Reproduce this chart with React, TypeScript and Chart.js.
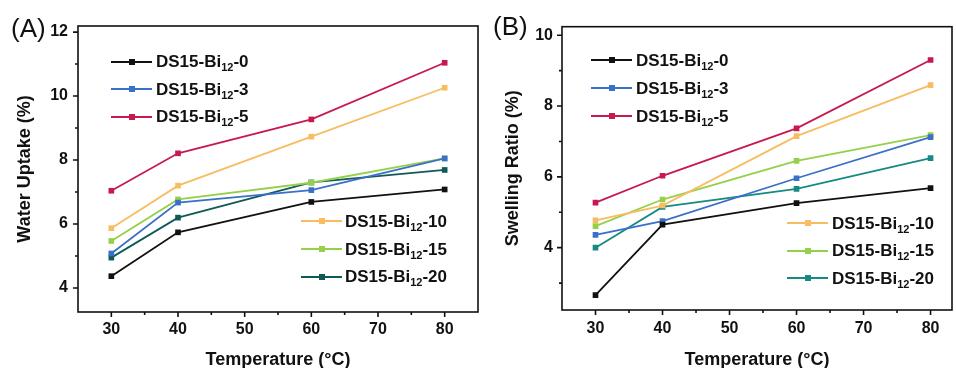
import React, { useEffect, useRef } from 'react';
import { Chart, registerables } from 'chart.js';

Chart.register(...registerables);

const FONT = "'Liberation Sans', Arial, Helvetica, sans-serif";

// ---------- data ----------
const temperatures = [30, 40, 60, 80];
const sampleIds = ['0', '3', '5', '10', '15', '20'];
const labelPrefix = 'DS15-Bi';
const labelSub = '12';

const waterUptake0 = [4.37, 5.74, 6.69, 7.08];
const waterUptake3 = [5.08, 6.67, 7.06, 8.05];
const waterUptake5 = [7.04, 8.21, 9.27, 11.04];
const waterUptake10 = [5.87, 7.2, 8.73, 10.26];
const waterUptake15 = [5.47, 6.77, 7.29, 8.05];
const waterUptake20 = [4.95, 6.2, 7.3, 7.69];

const swelling0 = [2.66, 4.65, 5.26, 5.68];
const swelling3 = [4.36, 4.75, 5.96, 7.12];
const swelling5 = [5.27, 6.03, 7.37, 9.3];
const swelling10 = [4.77, 5.19, 7.15, 8.59];
const swelling15 = [4.61, 5.36, 6.45, 7.18];
const swelling20 = [4.0, 5.15, 5.66, 6.53];

const colorsA = ['#111111', '#3a70c8', '#c8194f', '#f7bd60', '#96d04a', '#105a55'];
const colorsB = ['#111111', '#3a70c8', '#c8194f', '#f7bd60', '#96d04a', '#178a82'];

const xTickLabels = [30, 40, 50, 60, 70, 80];
const yTickLabelsA = [4, 6, 8, 10, 12];
const yTickLabelsB = [4, 6, 8, 10];

const legendGroupTop = [0, 1, 2];
const legendGroupBottom = [3, 4, 5];

const xTitle = 'Temperature (°C)';
const yTitleA = 'Water Uptake (%)';
const yTitleB = 'Swelling Ratio (%)';

// ---------- plugin: frame + outward ticks ----------
const framePlugin = {
  id: 'frameTicks',
  afterDraw(chart: any) {
    const { ctx, chartArea: a, scales } = chart;
    const xs = scales.x;
    const ys = scales.y;
    ctx.save();
    ctx.strokeStyle = '#111';
    ctx.lineWidth = 1.6;
    ctx.beginPath();
    xs.ticks.forEach((t: any) => {
      const v = t.value;
      if (v <= xs.min + 1e-6 || v >= xs.max - 1e-6) return;
      const px = xs.getPixelForValue(v);
      const len = xTickLabels.includes(v) ? 5 : 3;
      ctx.moveTo(px, a.bottom);
      ctx.lineTo(px, a.bottom + len);
    });
    ys.ticks.forEach((t: any) => {
      const v = t.value;
      if (v <= ys.min + 1e-6 || v >= ys.max - 1e-6) return;
      const py = ys.getPixelForValue(v);
      const len = v % 2 === 0 ? 5 : 3;
      ctx.moveTo(a.left, py);
      ctx.lineTo(a.left - len, py);
    });
    ctx.stroke();
    ctx.lineWidth = 1.6;
    ctx.strokeRect(a.left, a.top, a.right - a.left, a.bottom - a.top);
    ctx.restore();
  },
};

function stepTicks(min: number, max: number, step: number) {
  const out: { value: number }[] = [];
  for (let v = Math.ceil(min / step) * step; v <= max + 1e-9; v += step) out.push({ value: v });
  return out;
}

type PanelProps = {
  left: number;
  width: number;
  series: number[][];
  colors: string[];
  yTickLabels: number[];
  yTitle: string;
  layout: any;
};

function ChartPanel({ left, width, series, colors, yTickLabels, yTitle, layout }: PanelProps) {
  const ref = useRef<HTMLCanvasElement | null>(null);
  useEffect(() => {
    if (!ref.current) return;
    const datasets = series.map((vals, i) => ({
      label: `${labelPrefix}${labelSub}-${sampleIds[i]}`,
      data: temperatures.map((t, j) => ({ x: t, y: vals[j] })),
      borderColor: colors[i],
      backgroundColor: colors[i],
      borderWidth: 1.8,
      pointStyle: 'rect',
      pointRadius: 4,
      pointBorderWidth: 0,
      tension: 0,
    }));
    const chart = new Chart(ref.current, {
      type: 'line',
      data: { datasets },
      plugins: [framePlugin],
      options: {
        animation: false,
        responsive: false,
        layout: { padding: layout.padding },
        plugins: { legend: { display: false }, tooltip: { enabled: false } },
        scales: {
          x: {
            type: 'linear',
            min: layout.xMin,
            max: layout.xMax,
            grid: { display: false, drawTicks: false },
            border: { display: false },
            afterBuildTicks: (s: any) => {
              s.ticks = stepTicks(layout.xMin, layout.xMax, 5);
            },
            ticks: {
              autoSkip: false,
              maxRotation: 0,
              padding: layout.xTickPad,
              color: '#111',
              font: { family: FONT, size: 16, weight: 'bold' },
              callback: (v: any) => (xTickLabels.includes(Number(v)) ? String(v) : ''),
            },
            title: {
              display: true,
              text: xTitle,
              color: '#111',
              font: { family: FONT, size: 18, weight: 'bold' },
              padding: { top: 0, bottom: -2.5 },
            },
            afterFit: (s: any) => {
              s.height = layout.xHeight;
            },
          },
          y: {
            type: 'linear',
            min: layout.yMin,
            max: layout.yMax,
            grid: { display: false, drawTicks: false },
            border: { display: false },
            afterBuildTicks: (s: any) => {
              s.ticks = stepTicks(layout.yMin, layout.yMax, 1);
            },
            ticks: {
              autoSkip: false,
              padding: layout.yTickPad,
              color: '#111',
              font: { family: FONT, size: 16, weight: 'bold' },
              callback: (v: any) => (yTickLabels.includes(Number(v)) ? String(v) : ''),
            },
            title: {
              display: true,
              text: yTitle,
              color: '#111',
              font: { family: FONT, size: 18, weight: 'bold' },
              padding: { top: layout.yTitlePad, bottom: 0 },
            },
            afterFit: (s: any) => {
              s.width = layout.yWidth;
            },
          },
        },
      } as any,
    });
    return () => chart.destroy();
  }, []);
  return (
    <canvas
      ref={ref}
      width={width}
      height={368}
      style={{ position: 'absolute', left, top: 0, width, height: 368, display: 'block' }}
    />
  );
}

function LegendGroup({
  indices,
  colors,
  lineX,
  textX,
  rows,
}: {
  indices: number[];
  colors: string[];
  lineX: number;
  textX: number;
  rows: number[];
}) {
  return (
    <>
      {indices.map((idx, k) => {
        const y = rows[k];
        const c = colors[idx];
        return (
          <React.Fragment key={idx}>
            <div style={{ position: 'absolute', left: lineX, top: y - 1, width: 41, height: 2, background: c }} />
            <div style={{ position: 'absolute', left: lineX + 17.5, top: y - 3, width: 6, height: 6, background: c }} />
            <div
              style={{
                position: 'absolute',
                left: textX,
                top: y - 8.3,
                fontFamily: FONT,
                fontWeight: 'bold',
                fontSize: 17,
                lineHeight: '17px',
                whiteSpace: 'nowrap',
                color: '#111',
              }}
            >
              {labelPrefix}
              <span style={{ fontSize: 11, position: 'relative', top: 4 }}>{labelSub}</span>-{sampleIds[idx]}
            </div>
          </React.Fragment>
        );
      })}
    </>
  );
}

export default function App() {
  const seriesA = [waterUptake0, waterUptake3, waterUptake5, waterUptake10, waterUptake15, waterUptake20];
  const seriesB = [swelling0, swelling3, swelling5, swelling10, swelling15, swelling20];
  const layoutA = {
    padding: { top: 26, right: 4, left: 0, bottom: 0 },
    yWidth: 78,
    xHeight: 56,
    xMin: 25,
    xMax: 85,
    yMin: 3.25,
    yMax: 12.19,
    yTickPad: 10,
    xTickPad: 8,
    yTitlePad: 14,
  };
  const layoutB = {
    padding: { top: 26.7, right: 1, left: 0, bottom: 0 },
    yWidth: 76,
    xHeight: 58,
    xMin: 25,
    xMax: 83.2,
    yMin: 2.24,
    yMax: 10.24,
    yTickPad: 9,
    xTickPad: 9,
    yTitlePad: 16.5,
  };
  return (
    <div style={{ position: 'absolute', left: 0, top: 0, width: 956, height: 368, background: '#fff', overflow: 'hidden' }}>
      <ChartPanel left={0} width={486} series={seriesA} colors={colorsA} yTickLabels={yTickLabelsA} yTitle={yTitleA} layout={layoutA} />
      <ChartPanel left={486} width={470} series={seriesB} colors={colorsB} yTickLabels={yTickLabelsB} yTitle={yTitleB} layout={layoutB} />
      <div style={{ position: 'absolute', left: 11, top: 14.5, fontFamily: FONT, fontSize: 26, lineHeight: '26px', color: '#111' }}>(A)</div>
      <div style={{ position: 'absolute', left: 493, top: 13, fontFamily: FONT, fontSize: 26, lineHeight: '26px', color: '#111' }}>(B)</div>
      <LegendGroup indices={legendGroupTop} colors={colorsA} lineX={111} textX={156} rows={[61.7, 89.3, 116.7]} />
      <LegendGroup indices={legendGroupBottom} colors={colorsA} lineX={301} textX={345} rows={[221, 249.3, 276.7]} />
      <LegendGroup indices={legendGroupTop} colors={colorsB} lineX={591} textX={636} rows={[60.3, 88.3, 116]} />
      <LegendGroup indices={legendGroupBottom} colors={colorsB} lineX={787} textX={832} rows={[223.3, 250.7, 278.3]} />
    </div>
  );
}
